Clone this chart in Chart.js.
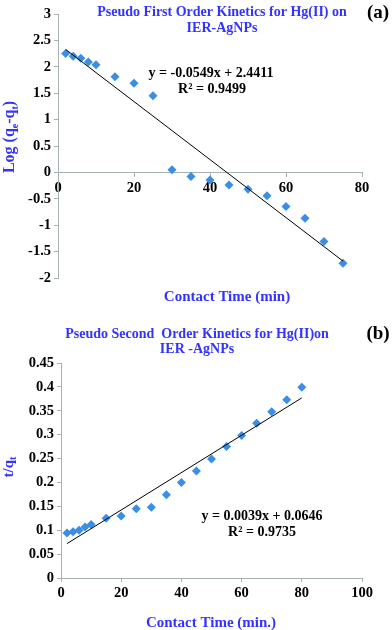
<!DOCTYPE html>
<html>
<head>
<meta charset="utf-8">
<script src="https://cdn.jsdelivr.net/npm/chart.js@4.4.1/dist/chart.umd.min.js"></script>
<style>
  html, body { margin: 0; padding: 0; background: #fff; }
  .panel { position: absolute; left: 0; }
  #wrapA { top: 0; width: 392px; height: 310px; }
  #wrapB { top: 310px; width: 392px; height: 320px; }
</style>
</head>
<body>
<div id="wrapA" class="panel"><canvas id="chartA" width="392" height="310"></canvas></div>
<div id="wrapB" class="panel"><canvas id="chartB" width="392" height="320"></canvas></div>
<script>
// (a) pseudo first order
const timeA = [2, 4, 6, 8, 10, 15, 20, 25, 30, 35, 40, 45, 50, 55, 60, 65, 70, 75]
const logQeQt = [2.25, 2.20, 2.16, 2.09, 2.04, 1.81, 1.69, 1.45, 0.05, -0.08, -0.145, -0.24, -0.32, -0.44, -0.645, -0.87, -1.31, -1.72]
const fitTimeA = [2, 75]
const fitLogA = [2.33, -1.68]
const xTicksA = [0, 20, 40, 60, 80]
const yTicksA = [-2, -1.5, -1, -0.5, 0, 0.5, 1, 1.5, 2, 2.5, 3]

// (b) pseudo second order
const timeB = [2, 4, 6, 8, 10, 15, 20, 25, 30, 35, 40, 45, 50, 55, 60, 65, 70, 75, 80]
const tOverQt = [0.094, 0.097, 0.100, 0.107, 0.112, 0.125, 0.130, 0.145, 0.148, 0.174, 0.200, 0.224, 0.249, 0.275, 0.298, 0.324, 0.348, 0.373, 0.399]
const fitTimeB = [2, 80]
const fitTOverQ = [0.072, 0.377]
const xTicksB = [0, 20, 40, 60, 80, 100]
const yTicksB = [0, 0.05, 0.1, 0.15, 0.2, 0.25, 0.3, 0.35, 0.4, 0.45]

const FONT = '"Liberation Serif", "Times New Roman", serif'
const BLUE_TEXT = '#3333ff'
const MARKER = '#3a8ee6'
const AXIS = '#a3b3b3'

// draws text made of [string, 'sub'|'sup'|''] pieces, centered on x,y
function drawRich(ctx, item) {
  const size = item.size
  const parts = item.parts
  ctx.save()
  ctx.fillStyle = item.color
  ctx.textBaseline = 'alphabetic'
  ctx.textAlign = 'left'
  let total = 0
  const widths = parts.map(([s, kind]) => {
    ctx.font = `bold ${kind ? Math.round(size * 0.65) : size}px ${FONT}`
    const w = ctx.measureText(s).width
    total += w
    return w
  })
  ctx.translate(item.x, item.y)
  if (item.rotate) ctx.rotate(-Math.PI / 2)
  let cx = -total / 2
  const base = size * 0.33
  parts.forEach(([s, kind], i) => {
    ctx.font = `bold ${kind ? Math.round(size * 0.65) : size}px ${FONT}`
    const dy = kind === 'sub' ? size * 0.22 : 0
    ctx.fillText(s, cx, base + dy)
    cx += widths[i]
  })
  ctx.restore()
}

function textPlugin(items) {
  return {
    id: 'panelText',
    afterDraw(chart) {
      items.forEach(it => drawRich(chart.ctx, it))
    }
  }
}

function toPoints(xs, ys) {
  return xs.map((x, i) => ({ x, y: ys[i] }))
}

function fmt(v) {
  return String(+v.toFixed(2))
}

function axisOpts(ticks, extra) {
  return Object.assign({
    type: 'linear',
    min: ticks[0],
    max: ticks[ticks.length - 1],
    afterBuildTicks: s => { s.ticks = ticks.map(v => ({ value: v })) },
    grid: { drawOnChartArea: false, drawTicks: true, tickLength: 4, color: AXIS, lineWidth: 1 },
    border: { color: AXIS, width: 1 },
    ticks: {
      color: '#000',
      font: { family: FONT, size: 14.5, weight: 'bold' },
      callback: v => fmt(v),
      maxRotation: 0,
      autoSkip: false
    }
  }, extra)
}

function scatterDatasets(xs, ys, fx, fy) {
  return [
    {
      type: 'line',
      data: toPoints(fx, fy),
      borderColor: '#000',
      borderWidth: 1,
      pointRadius: 0,
      fill: false,
      order: 0
    },
    {
      type: 'scatter',
      data: toPoints(xs, ys),
      pointStyle: 'rectRot',
      pointRadius: 4.5,
      backgroundColor: MARKER,
      borderColor: MARKER,
      borderWidth: 0,
      order: 1
    }
  ]
}

const common = {
  responsive: false,
  animation: false,
  devicePixelRatio: 1,
  plugins: { legend: { display: false }, tooltip: { enabled: false } }
}

new Chart(document.getElementById('chartA').getContext('2d'), {
  type: 'scatter',
  data: { datasets: scatterDatasets(timeA, logQeQt, fitTimeA, fitLogA) },
  options: Object.assign({}, common, {
    layout: { padding: { left: 0, right: 30, top: 14, bottom: 32 } },
    scales: {
      x: axisOpts(xTicksA, { position: { y: 0 } }),
      y: axisOpts(yTicksA, { afterFit: s => { s.width = 58 } })
    }
  }),
  plugins: [textPlugin([
    { parts: [['Pseudo First Order Kinetics for Hg(II) on', '']], x: 222, y: 11, size: 14, color: BLUE_TEXT },
    { parts: [['IER-AgNPs', '']], x: 222, y: 27, size: 14, color: BLUE_TEXT },
    { parts: [['(a)', '']], x: 378, y: 12, size: 19, color: '#000' },
    { parts: [['y = -0.0549x + 2.4411', '']], x: 211, y: 72, size: 14, color: '#000' },
    { parts: [['R² = 0.9499', '']], x: 212, y: 88, size: 14, color: '#000' },
    { parts: [['Contact Time (min)', '']], x: 227, y: 296, size: 15, color: BLUE_TEXT },
    { parts: [['Log (q', ''], ['e', 'sub'], ['-q', ''], ['t', 'sub'], [')', '']], x: 9, y: 137, size: 16, color: BLUE_TEXT, rotate: true }
  ])]
})

new Chart(document.getElementById('chartB').getContext('2d'), {
  type: 'scatter',
  data: { datasets: scatterDatasets(timeB, tOverQt, fitTimeB, fitTOverQ) },
  options: Object.assign({}, common, {
    layout: { padding: { left: 0, right: 30, top: 53, bottom: 22 } },
    scales: {
      x: axisOpts(xTicksB, { position: 'bottom', afterFit: s => { s.height = 30 } }),
      y: axisOpts(yTicksB, { afterFit: s => { s.width = 61 } })
    }
  }),
  plugins: [textPlugin([
    { parts: [['Pseudo Second  Order Kinetics for Hg(II)on', '']], x: 197, y: 23, size: 14, color: BLUE_TEXT },
    { parts: [['IER -AgNPs', '']], x: 197, y: 38, size: 14, color: BLUE_TEXT },
    { parts: [['(b)', '']], x: 378, y: 23, size: 19, color: '#000' },
    { parts: [['y = 0.0039x + 0.0646', '']], x: 262, y: 205, size: 14, color: '#000' },
    { parts: [['R² = 0.9735', '']], x: 262, y: 221, size: 14, color: '#000' },
    { parts: [['Contact Time (min.)', '']], x: 211, y: 312, size: 15, color: BLUE_TEXT },
    { parts: [['t/q', ''], ['t', 'sub']], x: 8, y: 157, size: 15, color: BLUE_TEXT, rotate: true }
  ])]
})
</script>
</body>
</html>
